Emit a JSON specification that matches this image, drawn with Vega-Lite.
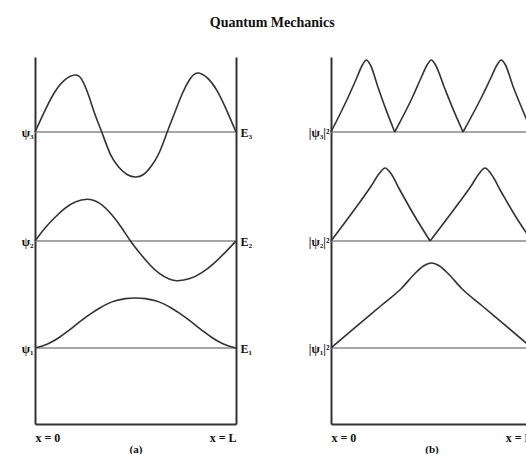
{
  "$schema": "https://vega.github.io/schema/vega-lite/v6.json",
  "padding": {"left": 21, "top": 15, "right": 0, "bottom": 0},
  "title": {"text": "Quantum Mechanics", "font": "Liberation Serif", "fontSize": 14, "fontWeight": "bold", "anchor": "middle", "offset": 27, "dx": -6, "color": "#111"},
  "bounds": "flush",
  "spacing": 95,
  "config": {
    "view": {"stroke": null},
    "axis": {"ticks": false, "grid": false, "domainColor": "#333", "domainWidth": 2, "labelColor": "#111", "labelFont": "Liberation Serif", "labelFontSize": 12, "labelFontWeight": "bold", "titleFont": "Liberation Serif", "titleFontSize": 11, "titleFontWeight": "bold", "titleColor": "#111", "labelOverlap": false, "labelBound": false}
  },
  "datasets": {
    "levels": [{"n": 1, "y": 76}, {"n": 2, "y": 183}, {"n": 3, "y": 292}],
    "psi": [
      {"n": 1, "x": 0, "y": 76}, {"n": 1, "x": 0.04, "y": 78.2}, {"n": 1, "x": 0.08, "y": 81.7}, {"n": 1, "x": 0.12, "y": 86.5}, {"n": 1, "x": 0.16, "y": 92.3}, {"n": 1, "x": 0.2, "y": 98.6}, {"n": 1, "x": 0.24, "y": 104.8}, {"n": 1, "x": 0.28, "y": 110.6}, {"n": 1, "x": 0.32, "y": 115.8}, {"n": 1, "x": 0.36, "y": 120.1}, {"n": 1, "x": 0.4, "y": 123.2}, {"n": 1, "x": 0.45, "y": 125.4}, {"n": 1, "x": 0.5, "y": 126}, {"n": 1, "x": 0.55, "y": 125.4}, {"n": 1, "x": 0.6, "y": 123.2}, {"n": 1, "x": 0.64, "y": 120.1}, {"n": 1, "x": 0.68, "y": 115.8}, {"n": 1, "x": 0.72, "y": 110.6}, {"n": 1, "x": 0.76, "y": 104.8}, {"n": 1, "x": 0.8, "y": 98.6}, {"n": 1, "x": 0.84, "y": 92.3}, {"n": 1, "x": 0.88, "y": 86.5}, {"n": 1, "x": 0.92, "y": 81.7}, {"n": 1, "x": 0.96, "y": 78.2}, {"n": 1, "x": 1, "y": 76},
      {"n": 2, "x": 0, "y": 183}, {"n": 2, "x": 0.05, "y": 196}, {"n": 2, "x": 0.1, "y": 206.7}, {"n": 2, "x": 0.15, "y": 215.8}, {"n": 2, "x": 0.2, "y": 222}, {"n": 2, "x": 0.26, "y": 224.7}, {"n": 2, "x": 0.32, "y": 220.8}, {"n": 2, "x": 0.38, "y": 209.7}, {"n": 2, "x": 0.43, "y": 196.5}, {"n": 2, "x": 0.475, "y": 183}, {"n": 2, "x": 0.52, "y": 171.2}, {"n": 2, "x": 0.57, "y": 159.5}, {"n": 2, "x": 0.62, "y": 150.3}, {"n": 2, "x": 0.67, "y": 144.7}, {"n": 2, "x": 0.71, "y": 143.3}, {"n": 2, "x": 0.77, "y": 145.4}, {"n": 2, "x": 0.83, "y": 151.4}, {"n": 2, "x": 0.89, "y": 160.7}, {"n": 2, "x": 0.95, "y": 172.4}, {"n": 2, "x": 1, "y": 183},
      {"n": 3, "x": 0, "y": 292}, {"n": 3, "x": 0.05, "y": 313.7}, {"n": 3, "x": 0.1, "y": 332.5}, {"n": 3, "x": 0.15, "y": 344.4}, {"n": 3, "x": 0.2, "y": 349}, {"n": 3, "x": 0.233, "y": 344.4}, {"n": 3, "x": 0.266, "y": 329}, {"n": 3, "x": 0.299, "y": 309.2}, {"n": 3, "x": 0.332, "y": 292}, {"n": 3, "x": 0.374, "y": 270.2}, {"n": 3, "x": 0.416, "y": 257}, {"n": 3, "x": 0.458, "y": 249.5}, {"n": 3, "x": 0.5, "y": 247}, {"n": 3, "x": 0.5395, "y": 249.5}, {"n": 3, "x": 0.579, "y": 258}, {"n": 3, "x": 0.6185, "y": 271.5}, {"n": 3, "x": 0.658, "y": 292}, {"n": 3, "x": 0.696, "y": 311.8}, {"n": 3, "x": 0.733, "y": 330.5}, {"n": 3, "x": 0.771, "y": 345}, {"n": 3, "x": 0.808, "y": 351}, {"n": 3, "x": 0.856, "y": 346.3}, {"n": 3, "x": 0.904, "y": 333.9}, {"n": 3, "x": 0.952, "y": 314.4}, {"n": 3, "x": 1, "y": 292}
    ],
    "prob": [
      {"n": 1, "k": 1, "x": 0, "y": 76}, {"n": 1, "k": 1, "x": 0.125, "y": 97.3}, {"n": 1, "k": 1, "x": 0.25, "y": 118.5}, {"n": 1, "k": 1, "x": 0.35, "y": 135.5}, {"n": 1, "k": 1, "x": 0.42, "y": 151}, {"n": 1, "k": 1, "x": 0.46, "y": 158}, {"n": 1, "k": 1, "x": 0.5, "y": 161}, {"n": 1, "k": 1, "x": 0.54, "y": 158}, {"n": 1, "k": 1, "x": 0.58, "y": 151}, {"n": 1, "k": 1, "x": 0.65, "y": 135.5}, {"n": 1, "k": 1, "x": 0.75, "y": 118.5}, {"n": 1, "k": 1, "x": 0.875, "y": 97.3}, {"n": 1, "k": 1, "x": 1, "y": 76},
      {"n": 2, "k": 1, "x": 0, "y": 183}, {"n": 2, "k": 1, "x": 0.135, "y": 219.5}, {"n": 2, "k": 1, "x": 0.2, "y": 238}, {"n": 2, "k": 1, "x": 0.24, "y": 250.5}, {"n": 2, "k": 1, "x": 0.269, "y": 256}, {"n": 2, "k": 1, "x": 0.298, "y": 250.5}, {"n": 2, "k": 1, "x": 0.34, "y": 235}, {"n": 2, "k": 1, "x": 0.41, "y": 210}, {"n": 2, "k": 1, "x": 0.493, "y": 183},
      {"n": 2, "k": 2, "x": 0.493, "y": 183}, {"n": 2, "k": 2, "x": 0.63, "y": 219.5}, {"n": 2, "k": 2, "x": 0.697, "y": 238}, {"n": 2, "k": 2, "x": 0.737, "y": 250.5}, {"n": 2, "k": 2, "x": 0.766, "y": 256}, {"n": 2, "k": 2, "x": 0.795, "y": 250.5}, {"n": 2, "k": 2, "x": 0.85, "y": 231}, {"n": 2, "k": 2, "x": 0.92, "y": 207}, {"n": 2, "k": 2, "x": 1, "y": 183},
      {"n": 3, "k": 1, "x": 0, "y": 292}, {"n": 3, "k": 1, "x": 0.088, "y": 328}, {"n": 3, "k": 1, "x": 0.13, "y": 347}, {"n": 3, "k": 1, "x": 0.156, "y": 359}, {"n": 3, "k": 1, "x": 0.176, "y": 364}, {"n": 3, "k": 1, "x": 0.196, "y": 359}, {"n": 3, "k": 1, "x": 0.235, "y": 336}, {"n": 3, "k": 1, "x": 0.275, "y": 313.6}, {"n": 3, "k": 1, "x": 0.317, "y": 292},
      {"n": 3, "k": 2, "x": 0.317, "y": 292}, {"n": 3, "k": 2, "x": 0.408, "y": 328}, {"n": 3, "k": 2, "x": 0.45, "y": 347}, {"n": 3, "k": 2, "x": 0.478, "y": 359}, {"n": 3, "k": 2, "x": 0.499, "y": 364}, {"n": 3, "k": 2, "x": 0.52, "y": 359}, {"n": 3, "k": 2, "x": 0.565, "y": 336}, {"n": 3, "k": 2, "x": 0.61, "y": 313.6}, {"n": 3, "k": 2, "x": 0.657, "y": 292},
      {"n": 3, "k": 3, "x": 0.657, "y": 292}, {"n": 3, "k": 3, "x": 0.752, "y": 328}, {"n": 3, "k": 3, "x": 0.795, "y": 346}, {"n": 3, "k": 3, "x": 0.826, "y": 359}, {"n": 3, "k": 3, "x": 0.847, "y": 364}, {"n": 3, "k": 3, "x": 0.868, "y": 359}, {"n": 3, "k": 3, "x": 0.905, "y": 338}, {"n": 3, "k": 3, "x": 0.95, "y": 315.5}, {"n": 3, "k": 3, "x": 1, "y": 292}
    ]
  },
  "hconcat": [
    {
      "width": 201,
      "height": 367,
      "layer": [
        {
          "data": {"name": "levels"},
          "mark": {"type": "rule", "color": "#888", "strokeWidth": 1.5},
          "encoding": {
            "y": {"field": "y", "type": "quantitative", "scale": {"domain": [0, 367], "nice": false, "zero": false},
              "axis": {"orient": "right", "title": null, "values": [76, 183, 292], "labelPadding": 4, "labelExpr": "datum.value == 76 ? 'E₁' : datum.value == 183 ? 'E₂' : 'E₃'"}}
          }
        },
        {
          "data": {"name": "psi"},
          "mark": {"type": "line", "interpolate": "natural", "color": "#333", "strokeWidth": 1.6},
          "encoding": {
            "x": {"field": "x", "type": "quantitative", "scale": {"domain": [0, 1], "nice": false, "zero": false},
              "axis": {"title": "(a)", "values": [0, 1], "labelFlush": true, "labelPadding": 8, "titlePadding": 0, "labelExpr": "datum.value == 0 ? 'x = 0' : 'x = L'"}},
            "y": {"field": "y", "type": "quantitative", "scale": {"domain": [0, 367], "nice": false, "zero": false},
              "axis": {"orient": "left", "title": null, "values": [76, 183, 292], "labelPadding": 2, "labelExpr": "datum.value == 76 ? 'ψ₁' : datum.value == 183 ? 'ψ₂' : 'ψ₃'"}},
            "detail": {"field": "n", "type": "nominal"}
          }
        }
      ],
      "resolve": {"axis": {"y": "independent"}}
    },
    {
      "width": 201,
      "height": 367,
      "layer": [
        {
          "data": {"name": "levels"},
          "mark": {"type": "rule", "color": "#888", "strokeWidth": 1.5},
          "encoding": {
            "y": {"field": "y", "type": "quantitative", "scale": {"domain": [0, 367], "nice": false, "zero": false},
              "axis": {"orient": "right", "title": null, "values": [76, 183, 292], "labels": false}}
          }
        },
        {
          "data": {"name": "prob"},
          "mark": {"type": "line", "interpolate": "monotone", "color": "#333", "strokeWidth": 1.6},
          "encoding": {
            "x": {"field": "x", "type": "quantitative", "scale": {"domain": [0, 1], "nice": false, "zero": false},
              "axis": {"title": "(b)", "values": [0, 1], "labelFlush": true, "labelPadding": 8, "titlePadding": 0, "labelExpr": "datum.value == 0 ? 'x = 0' : 'x = L'"}},
            "y": {"field": "y", "type": "quantitative", "scale": {"domain": [0, 367], "nice": false, "zero": false},
              "axis": {"orient": "left", "title": null, "values": [76, 183, 292], "labelPadding": 2, "labelExpr": "datum.value == 76 ? '|ψ₁|²' : datum.value == 183 ? '|ψ₂|²' : '|ψ₃|²'"}},
            "detail": [{"field": "n", "type": "nominal"}, {"field": "k", "type": "nominal"}]
          }
        }
      ],
      "resolve": {"axis": {"y": "independent"}}
    }
  ]
}
